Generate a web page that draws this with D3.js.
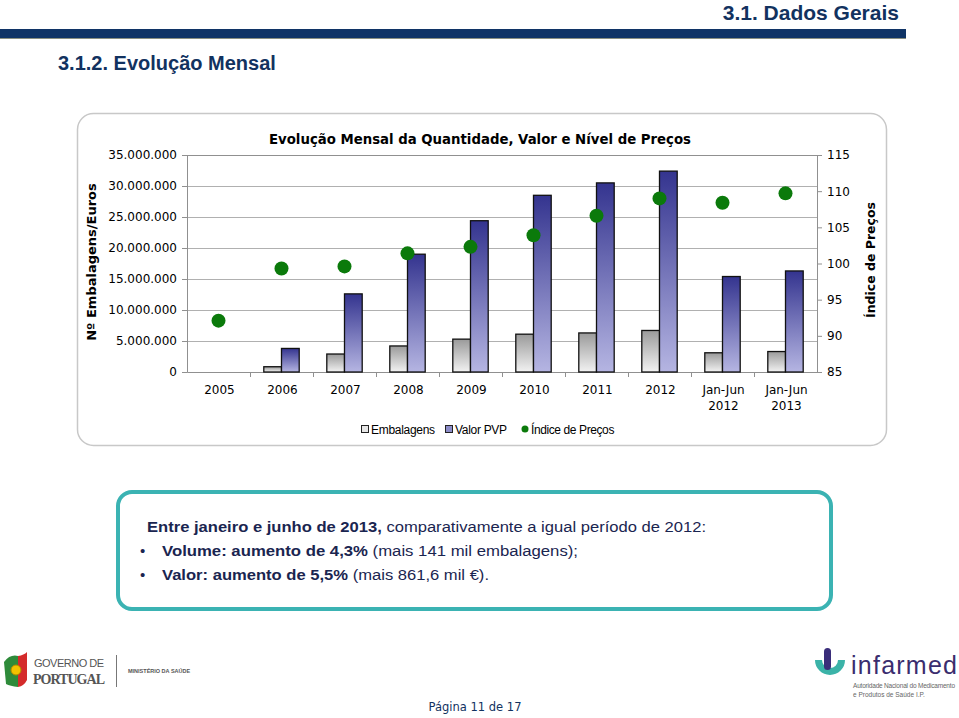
<!DOCTYPE html>
<html><head><meta charset="utf-8">
<script src="https://cdn.jsdelivr.net/npm/d3@7/dist/d3.min.js"></script>
<style>
html,body{margin:0;padding:0;background:#fff;}
svg{display:block;}
</style></head>
<body>
<script>
// ---- data ----
const categories = ["2005","2006","2007","2008","2009","2010","2011","2012","Jan-Jun 2012","Jan-Jun 2013"];
const embalagens = [null, 850000, 2900000, 4200000, 5300000, 6100000, 6300000, 6700000, 3100000, 3300000];
const valorPVP   = [null, 3800000, 12600000, 19000000, 24400000, 28500000, 30500000, 32400000, 15400000, 16300000];
const indicePrecos = [92.1, 99.3, 99.6, 101.4, 102.3, 103.9, 106.6, 109.0, 108.4, 109.7];
const leftTicks = [0, 5000000, 10000000, 15000000, 20000000, 25000000, 30000000, 35000000];
const rightTicks = [85, 90, 95, 100, 105, 110, 115];
const seriesNames = ["Embalagens", "Valor PVP", "Índice de Preços"];

const W = 959, H = 718;
const navy = "#12325f";
const svg = d3.select("body").append("svg").attr("width", W).attr("height", H);

const defs = svg.append("defs");
const gV = defs.append("linearGradient").attr("id","gV").attr("x1",0).attr("y1",0).attr("x2",0).attr("y2",1);
gV.append("stop").attr("offset","0%").attr("stop-color","#34348f");
gV.append("stop").attr("offset","100%").attr("stop-color","#b5b5e2");
const gE = defs.append("linearGradient").attr("id","gE").attr("x1",0).attr("y1",0).attr("x2",0).attr("y2",1);
gE.append("stop").attr("offset","0%").attr("stop-color","#9a9a9a");
gE.append("stop").attr("offset","100%").attr("stop-color","#f2f2f2");

// ---- header ----
svg.append("text").attr("x", 899).attr("y", 20).attr("text-anchor","end")
  .attr("font-family","Liberation Sans, Arial, sans-serif").attr("font-weight","bold")
  .attr("font-size", 21).attr("fill", navy).text("3.1. Dados Gerais");
svg.append("rect").attr("x",0).attr("y",29).attr("width",906).attr("height",9).attr("fill","#103466");
svg.append("rect").attr("x",0).attr("y",38).attr("width",906).attr("height",1).attr("fill","#8a8f80");
svg.append("text").attr("x", 58).attr("y", 70)
  .attr("font-family","Liberation Sans, Arial, sans-serif").attr("font-weight","bold")
  .attr("font-size", 20).attr("fill", navy).text("3.1.2. Evolução Mensal");

// ---- chart frame ----
svg.append("rect").attr("x",77.5).attr("y",113.5).attr("width",809).attr("height",332)
  .attr("rx",16).attr("fill","#fff").attr("stroke","#c8c8c8").attr("stroke-width",1.5);

const plot = {l:187, r:817, t:155, b:372};
const x = d3.scaleBand().domain(categories).range([plot.l, plot.r]).padding(0);
const yL = d3.scaleLinear().domain([0, 35000000]).range([plot.b, plot.t]);
const yR = d3.scaleLinear().domain([85, 115]).range([plot.b, plot.t]);

const font = "DejaVu Sans, Verdana, sans-serif";

svg.append("text").attr("x", 480).attr("y", 144).attr("text-anchor","middle")
  .attr("font-family", font).attr("font-weight","bold").attr("font-size",14)
  .attr("textLength", 422).attr("lengthAdjust","spacingAndGlyphs")
  .attr("fill","#000").text("Evolução Mensal da Quantidade, Valor e Nível de Preços");

// gridlines
svg.append("g").selectAll("line").data(leftTicks.filter(d=>d>0 && d<35000000)).join("line")
  .attr("x1", plot.l).attr("x2", plot.r).attr("y1", d=>yL(d)+0.5).attr("y2", d=>yL(d)+0.5)
  .attr("stroke","#b0b0b0").attr("stroke-width",1);
svg.append("line").attr("x1",plot.l).attr("x2",plot.r).attr("y1",plot.t+0.5).attr("y2",plot.t+0.5)
  .attr("stroke","#909090");

// left axis
const axL = svg.append("g").attr("transform",`translate(${plot.l},0)`)
  .call(d3.axisLeft(yL).tickValues(leftTicks).tickSize(5).tickPadding(5)
    .tickFormat(d => d3.format(",")(d).replace(/,/g,".")));
axL.select(".domain").attr("stroke","#909090");
axL.selectAll(".tick line").attr("stroke","#909090");
axL.selectAll("text").attr("font-family",font).attr("font-size",12).attr("fill","#000");

// right axis
const axR = svg.append("g").attr("transform",`translate(${plot.r},0)`)
  .call(d3.axisRight(yR).tickValues(rightTicks).tickSize(5).tickPadding(5));
axR.select(".domain").attr("stroke","#909090");
axR.selectAll(".tick line").attr("stroke","#909090");
axR.selectAll("text").attr("font-family",font).attr("font-size",12).attr("fill","#000");

// bottom axis
const axB = svg.append("g").attr("transform",`translate(0,${plot.b})`)
  .call(d3.axisBottom(x).tickSize(0).tickPadding(0).tickFormat(""));
axB.select(".domain").attr("stroke","#909090");
svg.append("g").selectAll("line").data(categories.slice(1)).join("line")
  .attr("x1", d=>x(d)+0.5).attr("x2", d=>x(d)+0.5).attr("y1", plot.b).attr("y2", plot.b+5)
  .attr("stroke","#909090");
const lab = svg.append("g").selectAll("text").data(categories).join("text")
  .attr("text-anchor","middle").attr("font-family",font).attr("font-size",12).attr("fill","#000")
  .attr("x", d=>x(d)+x.bandwidth()/2 + 1);
lab.each(function(d){
  const parts = d.split(" ");
  const t = d3.select(this);
  parts.forEach((p,i)=>t.append("tspan").attr("x", x(d)+x.bandwidth()/2+1).attr("y", 394 + i*16).text(p));
});

// axis titles
svg.append("text").attr("transform","translate(96,262) rotate(-90)").attr("text-anchor","middle")
  .attr("font-family",font).attr("font-weight","bold").attr("font-size",13).attr("fill","#000")
  .text("Nº Embalagens/Euros");
svg.append("text").attr("transform","translate(875,260) rotate(-90)").attr("text-anchor","middle")
  .attr("font-family",font).attr("font-weight","bold").attr("font-size",12.5).attr("fill","#000")
  .text("Índice de Preços");

// bars
const bw = 17.7;
const bars = svg.append("g");
bars.selectAll("rect.e").data(categories.map((c,i)=>({c, v:embalagens[i]})).filter(d=>d.v!=null)).join("rect")
  .attr("class","e")
  .attr("x", d=>x(d.c)+x.bandwidth()/2 - bw).attr("width", bw)
  .attr("y", d=>yL(d.v)).attr("height", d=>yL(0)-yL(d.v))
  .attr("fill","url(#gE)").attr("stroke","#111").attr("stroke-width",1.3);
bars.selectAll("rect.v").data(categories.map((c,i)=>({c, v:valorPVP[i]})).filter(d=>d.v!=null)).join("rect")
  .attr("class","v")
  .attr("x", d=>x(d.c)+x.bandwidth()/2).attr("width", bw)
  .attr("y", d=>yL(d.v)).attr("height", d=>yL(0)-yL(d.v))
  .attr("fill","url(#gV)").attr("stroke","#111").attr("stroke-width",1.3);

// index dots
svg.append("g").selectAll("circle").data(categories.map((c,i)=>({c, v:indicePrecos[i]}))).join("circle")
  .attr("cx", d=>x(d.c)+x.bandwidth()/2).attr("cy", d=>yR(d.v)).attr("r",7)
  .attr("fill","#0b7a0b");

// legend
const lg = svg.append("g").attr("font-family","Liberation Sans, Arial, sans-serif").attr("font-size",12).attr("fill","#000");
lg.append("rect").attr("x",361.5).attr("y",425.5).attr("width",7).attr("height",7).attr("fill","#e6e6e6").attr("stroke","#222");
lg.append("text").attr("x",371).attr("y",434).attr("letter-spacing",-0.3).text(seriesNames[0]);
lg.append("rect").attr("x",445.5).attr("y",425.5).attr("width",7).attr("height",7).attr("fill","#8c8cc8").attr("stroke","#222");
lg.append("text").attr("x",455).attr("y",434).attr("letter-spacing",-0.3).text(seriesNames[1]);
lg.append("circle").attr("cx",525).attr("cy",429).attr("r",3.5).attr("fill","#0b7a0b");
lg.append("text").attr("x",531).attr("y",434).attr("letter-spacing",-0.4).text(seriesNames[2]);

// ---- text box ----
svg.append("rect").attr("x",118).attr("y",492).attr("width",713).attr("height",117).attr("rx",14)
  .attr("fill","#fff").attr("stroke","#3bb3b3").attr("stroke-width",4);
const tf = "Liberation Sans Narrow, Liberation Sans, Arial, sans-serif";
const tcol = "#1a2550";
const t1 = svg.append("text").attr("x",147).attr("y",532).attr("font-family",tf).attr("font-size",15.5).attr("fill",tcol)
  .attr("textLength",559).attr("lengthAdjust","spacingAndGlyphs");
t1.append("tspan").attr("font-weight","bold").text("Entre janeiro e junho de 2013,");
t1.append("tspan").text(" comparativamente a igual período de 2012:");
svg.append("text").attr("x",140).attr("y",556).attr("font-family",tf).attr("font-size",15).attr("fill",tcol).text("•");
const t2 = svg.append("text").attr("x",162).attr("y",556).attr("font-family",tf).attr("font-size",15.5).attr("fill",tcol)
  .attr("textLength",416).attr("lengthAdjust","spacingAndGlyphs");
t2.append("tspan").attr("font-weight","bold").text("Volume: aumento de 4,3%");
t2.append("tspan").text(" (mais 141  mil embalagens);");
svg.append("text").attr("x",140).attr("y",580).attr("font-family",tf).attr("font-size",15).attr("fill",tcol).text("•");
const t3 = svg.append("text").attr("x",162).attr("y",580).attr("font-family",tf).attr("font-size",15.5).attr("fill",tcol)
  .attr("textLength",327).attr("lengthAdjust","spacingAndGlyphs");
t3.append("tspan").attr("font-weight","bold").text("Valor: aumento de 5,5%");
t3.append("tspan").text(" (mais 861,6 mil €).");

// ---- footer: Governo de Portugal ----
const gp = svg.append("g");
gp.append("path").attr("d","M4,662 Q10,654 18,656 L18,687 Q10,686 6,684 Z").attr("fill","#2e8b3a");
gp.append("path").attr("d","M18,656 Q24,655 27,652 L27,680 Q24,686 18,687 Z").attr("fill","#d42b2b");
gp.append("circle").attr("cx",16).attr("cy",670).attr("r",5).attr("fill","#f2c200").attr("stroke","#b08a00");
gp.append("text").attr("x",34).attr("y",667).attr("font-family","Liberation Sans, Arial, sans-serif").attr("font-size",11).attr("fill","#555").attr("textLength",70).text("GOVERNO DE");
gp.append("text").attr("x",33).attr("y",684).attr("font-family","Liberation Serif, serif").attr("font-weight","bold").attr("font-size",14).attr("fill","#555").attr("textLength",72).text("PORTUGAL");
gp.append("line").attr("x1",116.5).attr("x2",116.5).attr("y1",655).attr("y2",687).attr("stroke","#777");
gp.append("text").attr("x",128).attr("y",673).attr("font-family","Liberation Sans, Arial, sans-serif").attr("font-weight","bold").attr("font-size",5.5).attr("fill","#555").text("MINISTÉRIO DA SAÚDE");

// ---- footer: infarmed ----
const inf = svg.append("g");
inf.append("path").attr("d","M815,660 A15,15 0 1 0 845,660 L838,660 A8,8 0 1 1 822,660 Z").attr("fill","#3bb3a8");
inf.append("rect").attr("x",824).attr("y",648).attr("width",7).attr("height",22).attr("rx",3.5).attr("fill","#3a2d7a");
inf.append("text").attr("x",851).attr("y",674).attr("font-family","Liberation Sans, Arial, sans-serif").attr("font-size",25).attr("fill","#3a2d6e").attr("textLength",106).text("infarmed");
inf.append("text").attr("x",853).attr("y",688).attr("font-family",tf).attr("font-size",6.5).attr("fill","#666").attr("textLength",102).text("Autoridade Nacional do Medicamento");
inf.append("text").attr("x",853).attr("y",697).attr("font-family",tf).attr("font-size",6.5).attr("fill","#666").text("e Produtos de Saúde I.P.");

svg.append("text").attr("x",475).attr("y",711).attr("text-anchor","middle").attr("font-family",font).attr("font-size",11.5).attr("fill",navy).text("Página 11 de 17");
</script>
</body></html>
